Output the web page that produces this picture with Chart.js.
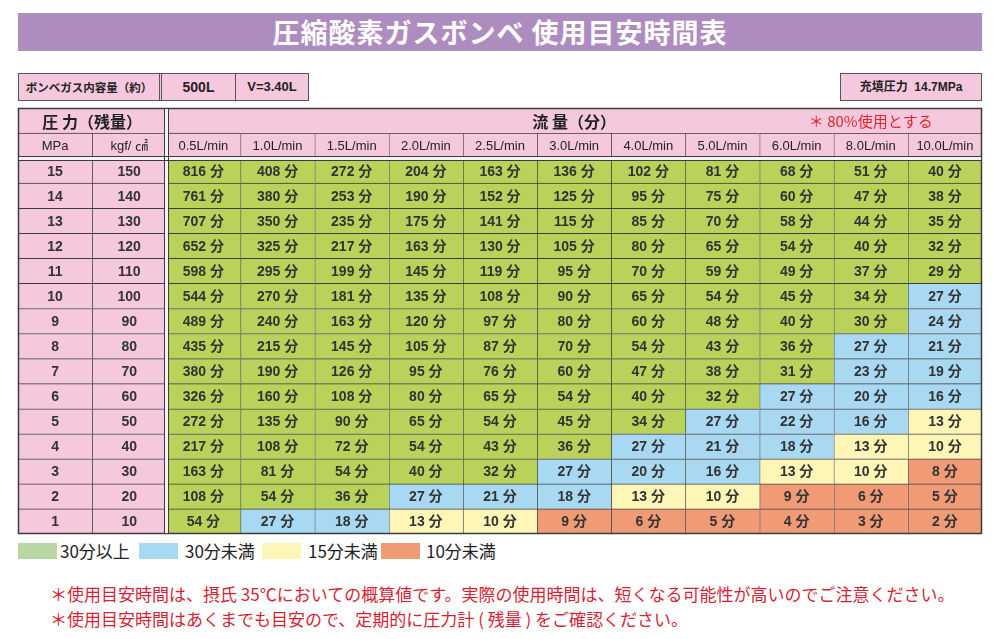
<!DOCTYPE html>
<html>
<head>
<meta charset="utf-8">
<script src="https://cdn.jsdelivr.net/npm/chart.js@4/dist/chart.umd.min.js"></script>
<style>
  body { margin: 0; background: #fff; font-family: "Liberation Sans", "Noto Sans CJK JP", sans-serif; }
  .abs { position: absolute; box-sizing: border-box; }
  .title { left: 18px; top: 13px; width: 964px; height: 38px; background: #af8cc0; color: #fff;
           font: bold 27px "Noto Sans CJK JP"; line-height: 38px; text-align: center; letter-spacing: 1px; }
  .box { top: 73px; height: 28px; background: #f6c8dd; border: 1px solid #555; color: #222;
         text-align: center; line-height: 26px; font-weight: bold; }
  .sw { top: 543px; width: 39px; height: 16px; }
  .lg { top: 539px; font: 17px "Noto Sans CJK JP"; color: #222; line-height: 24px; }
  .note { left: 50px; font: 17px "Noto Sans CJK JP"; color: #d51f34; line-height: 24px; white-space: nowrap; }
</style>
</head>
<body>
<div class="abs title">圧縮酸素ガスボンベ 使用目安時間表</div>

<div class="abs box" style="left:18px;width:144px;border-right:3px double #555;font-size:11.5px;font-family:'Noto Sans CJK JP'">ボンベガス内容量（約）</div>
<div class="abs box" style="left:161px;width:75px;font-size:14px">500L</div>
<div class="abs box" style="left:235px;width:74px;font-size:13px">V=3.40L</div>
<div class="abs box" style="left:840px;width:142px;font-size:12px;font-family:'Liberation Sans','Noto Sans CJK JP'">充填圧力&nbsp; 14.7MPa</div>

<div class="abs" style="left:17px;top:107px;width:966px;height:428px">
  <canvas id="myChart"></canvas>
</div>

<div class="abs sw" style="left:18px;background:#b9d7a2"></div>
<div class="abs lg" style="left:60px">30分以上</div>
<div class="abs sw" style="left:139px;background:#a8d8f2"></div>
<div class="abs lg" style="left:185px">30分未満</div>
<div class="abs sw" style="left:262px;background:#fdf6b6"></div>
<div class="abs lg" style="left:308px">15分未満</div>
<div class="abs sw" style="left:381px;background:#f19b76"></div>
<div class="abs lg" style="left:426px">10分未満</div>

<div class="abs note" style="top:582px">＊使用目安時間は、摂氏 35℃においての概算値です。実際の使用時間は、短くなる可能性が高いのでご注意ください。</div>
<div class="abs note" style="top:607px">＊使用目安時間はあくまでも目安ので、定期的に圧力計 ( 残量 ) をご確認ください。</div>

<script>
const flows = ["0.5L/min", "1.0L/min", "1.5L/min", "2.0L/min", "2.5L/min", "3.0L/min",
  "4.0L/min", "5.0L/min", "6.0L/min", "8.0L/min", "10.0L/min"];
const mpa = [15, 14, 13, 12, 11, 10, 9, 8, 7, 6, 5, 4, 3, 2, 1];
const kgf = [150, 140, 130, 120, 110, 100, 90, 80, 70, 60, 50, 40, 30, 20, 10];
// minutes per pressure row (15MPa .. 1MPa), one value per flow
const minutes = [
  [816, 408, 272, 204, 163, 136, 102, 81, 68, 51, 40],
  [761, 380, 253, 190, 152, 125, 95, 75, 60, 47, 38],
  [707, 350, 235, 175, 141, 115, 85, 70, 58, 44, 35],
  [652, 325, 217, 163, 130, 105, 80, 65, 54, 40, 32],
  [598, 295, 199, 145, 119, 95, 70, 59, 49, 37, 29],
  [544, 270, 181, 135, 108, 90, 65, 54, 45, 34, 27],
  [489, 240, 163, 120, 97, 80, 60, 48, 40, 30, 24],
  [435, 215, 145, 105, 87, 70, 54, 43, 36, 27, 21],
  [380, 190, 126, 95, 76, 60, 47, 38, 31, 23, 19],
  [326, 160, 108, 80, 65, 54, 40, 32, 27, 20, 16],
  [272, 135, 90, 65, 54, 45, 34, 27, 22, 16, 13],
  [217, 108, 72, 54, 43, 36, 27, 21, 18, 13, 10],
  [163, 81, 54, 40, 32, 27, 20, 16, 13, 10, 8],
  [108, 54, 36, 27, 21, 18, 13, 10, 9, 6, 5],
  [54, 27, 18, 13, 10, 9, 6, 5, 4, 3, 2],
];

const rowKeys = ["head1", "head2"].concat(mpa.map(String));
const PINK = "#f6c8dd";

function cellColor(v) {
  if (v >= 29) return "#b8d25a";
  if (v >= 15) return "#a8d8f2";
  if (v >= 10) return "#fdf6b6";
  return "#f19b76";
}

function cellText(c, r) {
  if (r === 0) return c === 0 ? "圧 力（残量）" : c === 2 ? "流 量（分）" : null;
  if (r === 1) return c === 0 ? "MPa" : c === 1 ? "kgf/ ㎠" : flows[c - 2];
  if (c === 0) return String(mpa[r - 2]);
  if (c === 1) return String(kgf[r - 2]);
  return minutes[r - 2][c - 2] + " 分";
}

const datasets = [];
for (let c = 0; c < 13; c++) {
  datasets.push({
    data: rowKeys.map((k, r) => {
      if (r === 0) return c === 0 ? [0, 2] : c === 2 ? [2, 13] : null;
      return [c, c + 1];
    }),
    backgroundColor: rowKeys.map((k, r) => (r < 2 || c < 2 ? PINK : cellColor(minutes[r - 2][c - 2]))),
    borderColor: "#3c3c3c",
    borderWidth: { top: 1, left: 1, right: 0, bottom: 0 },
    borderSkipped: false,
    barPercentage: 1,
    categoryPercentage: 1,
    grouped: false,
  });
}

const tableText = {
  id: "tableText",
  afterDatasetsDraw(chart) {
    const g = chart.ctx;
    const x = chart.scales.x;
    const a = chart.chartArea;
    g.save();
    g.textAlign = "center";
    g.textBaseline = "middle";
    chart.data.datasets.forEach((ds, c) => {
      chart.getDatasetMeta(c).data.forEach((bar, r) => {
        const t = cellText(c, r);
        if (!t || ds.data[r] === null) return;
        if (r === 0) {
          g.font = "bold 16px 'Noto Sans CJK JP'";
          g.fillStyle = "#222";
        } else if (r === 1) {
          g.font = "13px 'Liberation Sans', 'Noto Sans CJK JP'";
          g.fillStyle = "#222";
        } else {
          g.font = "bold 14px 'Liberation Sans', 'Noto Sans CJK JP'";
          g.fillStyle = "#333";
        }
        g.fillText(t, (bar.x + bar.base) / 2, bar.y + 1);
      });
    });
    // note in the flow header
    const head = chart.getDatasetMeta(0).data[0];
    g.font = "15px 'Noto Sans CJK JP'";
    g.fillStyle = "#e3262a";
    g.fillText("＊ 80%使用とする", x.getPixelForValue(11.5), head.y + 1);

    // outer border
    g.strokeStyle = "#3c3c3c";
    g.lineWidth = 1.5;
    g.strokeRect(a.left + 0.5, a.top + 0.5, a.right - a.left - 1, a.bottom - a.top - 1);

    // double lines after the pressure columns and below the headers
    const vx = Math.round(x.getPixelForValue(2));
    const r1 = chart.getDatasetMeta(0).data[1];
    const hy = Math.round(r1.y + r1.height / 2);
    g.fillStyle = "#f4f4f4";
    g.fillRect(vx - 1, a.top + 1, 3, a.bottom - a.top - 2);
    g.fillRect(a.left + 1, hy - 1, a.right - a.left - 2, 3);
    g.fillStyle = "#3c3c3c";
    g.fillRect(vx - 2, a.top, 1, a.bottom - a.top);
    g.fillRect(vx + 2, a.top, 1, a.bottom - a.top);
    g.fillRect(a.left, hy - 2, a.right - a.left, 1);
    g.fillRect(a.left, hy + 2, a.right - a.left, 1);
    g.restore();
  },
};

new Chart(document.getElementById("myChart"), {
  type: "bar",
  data: { labels: rowKeys, datasets: datasets },
  options: {
    indexAxis: "y",
    responsive: true,
    maintainAspectRatio: false,
    animation: false,
    layout: { padding: 1 },
    plugins: { legend: { display: false }, tooltip: { enabled: false } },
    scales: {
      x: { type: "linear", min: 0, max: 13, display: false },
      y: { display: false },
    },
  },
  plugins: [tableText],
});
</script>
</body>
</html>
